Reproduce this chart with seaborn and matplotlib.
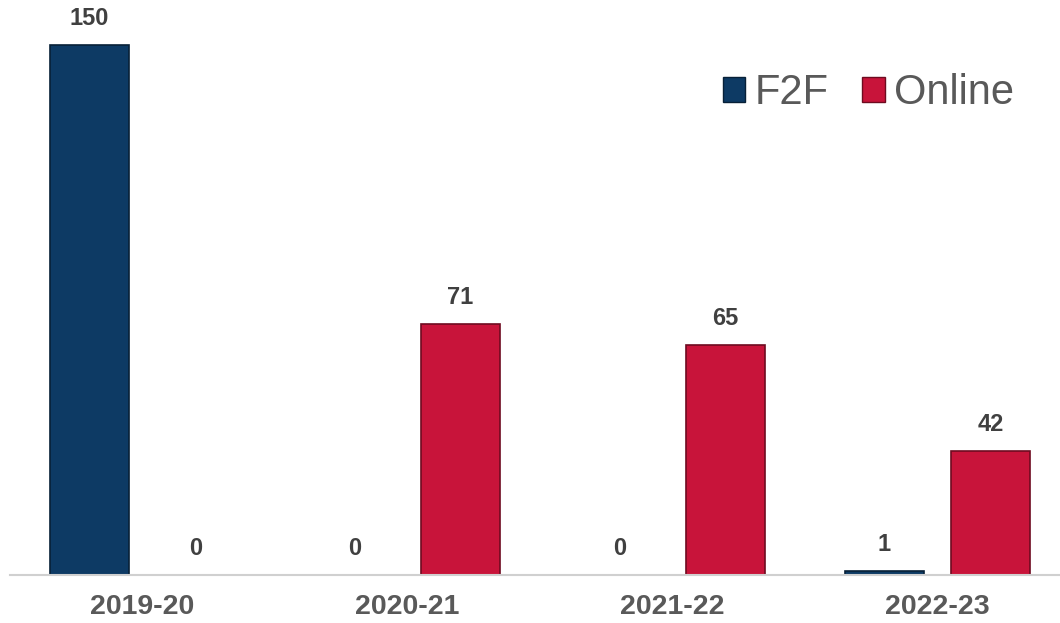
import pandas as pd
import matplotlib
matplotlib.use("Agg")
import matplotlib.pyplot as plt
import seaborn as sns
from matplotlib.patches import Patch

# Data
years = ["2019-20", "2020-21", "2021-22", "2022-23"]
f2f = [150, 0, 0, 1]
online = [0, 71, 65, 35]          # bar heights as drawn
f2f_labels = ["150", "0", "0", "1"]
online_labels = ["0", "71", "65", "42"]   # labels as printed on the chart

df = pd.DataFrame({
    "Year": years * 2,
    "Mode": ["F2F"] * len(years) + ["Online"] * len(years),
    "Count": f2f + online,
})

sns.set_style("white")
plt.rcParams["font.family"] = ["Liberation Sans", "DejaVu Sans"]

fig = plt.figure(figsize=(10.6, 6.23), dpi=100)
ax = fig.add_axes([10 / 1060, 48 / 623, 1.0, 575 / 623])

palette = {"F2F": "#0d3a64", "Online": "#c8143a"}
sns.barplot(data=df, x="Year", y="Count", hue="Mode", palette=palette,
            width=0.8, gap=0.25, saturation=1, ax=ax, legend=False)

def darker(c, f=0.55):
    return tuple(v * f for v in matplotlib.colors.to_rgb(c))

for patch in ax.patches:
    patch.set_edgecolor(darker(patch.get_facecolor()))
    patch.set_linewidth(1.2)

# value labels
for container, labels in zip(ax.containers, [f2f_labels, online_labels]):
    ax.bar_label(container, labels=labels, padding=11, fontsize=17,
                 fontweight="bold", color="#404040")

ax.set_xlim(-0.5, 3.5)
ax.set_ylim(0, 162.7)
ax.set_xlabel("")
ax.set_ylabel("")
ax.set_yticks([])
ax.tick_params(axis="x", length=0, pad=14)
for lbl in ax.get_xticklabels():
    lbl.set_fontsize(20.5)
    lbl.set_fontweight("bold")
    lbl.set_color("#595959")

for side in ["top", "right", "left"]:
    ax.spines[side].set_visible(False)
ax.spines["bottom"].set_color("#d0d0d0")
ax.spines["bottom"].set_linewidth(1.5)

# legend
handles = [Patch(facecolor=palette[m], edgecolor=darker(palette[m]))
           for m in ["F2F", "Online"]]
fig.legend(handles, ["F2F", "Online"], loc="center right",
           bbox_to_anchor=(1014 / 1060, 1 - 93 / 623), ncol=2, frameon=False,
           fontsize=30, labelcolor="#595959", handlelength=0.55, handleheight=0.55,
           handletextpad=0.22, columnspacing=0.8, borderaxespad=0, borderpad=0)

fig.savefig("out.png", dpi=100)
